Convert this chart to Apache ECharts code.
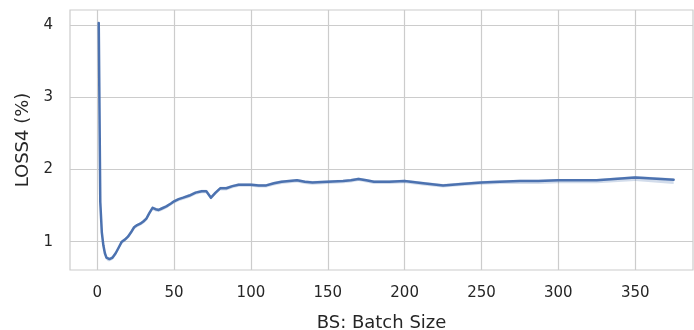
<!DOCTYPE html>
<html>
<head>
<meta charset="utf-8">
<script src="https://cdn.jsdelivr.net/npm/echarts@6/dist/echarts.min.js"></script>
<style>
  html, body { margin: 0; padding: 0; background: #ffffff; }
  #chart { width: 694px; height: 330px; }
</style>
</head>
<body>
<div id="chart"></div>
<script>
// Batch sizes (x) and mean loss (%) with its confidence band
const batchSizes = [1, 2, 3, 4, 5, 6, 7, 8, 9, 10, 12, 14, 16, 18, 20, 22, 24, 26, 28, 30,
  32, 34, 36, 38, 40, 42, 45, 48, 50, 53, 56, 60, 64, 68, 71, 74, 77, 80, 84, 88,
  92, 96, 100, 105, 110, 115, 120, 125, 130, 135, 140, 150, 160, 165, 170, 175, 180, 190, 200, 212,
  225, 237, 250, 262, 275, 287, 300, 325, 350, 375];
const lossMean = [4.03, 1.55, 1.13, 0.95, 0.84, 0.78, 0.76, 0.76, 0.77, 0.78, 0.84, 0.92, 1.00, 1.03, 1.07, 1.13, 1.20, 1.23, 1.25, 1.28,
  1.32, 1.40, 1.47, 1.45, 1.44, 1.46, 1.49, 1.53, 1.56, 1.59, 1.61, 1.64, 1.68, 1.70, 1.70, 1.61, 1.68, 1.74, 1.74, 1.77,
  1.79, 1.79, 1.79, 1.78, 1.78, 1.81, 1.83, 1.84, 1.85, 1.83, 1.82, 1.83, 1.84, 1.85, 1.87, 1.85, 1.83, 1.83, 1.84, 1.81,
  1.78, 1.80, 1.82, 1.83, 1.84, 1.84, 1.85, 1.85, 1.89, 1.86];
const lossLower = [4.01, 1.52, 1.10, 0.92, 0.81, 0.75, 0.73, 0.73, 0.74, 0.75, 0.81, 0.89, 0.97, 1.00, 1.04, 1.10, 1.17, 1.20, 1.22, 1.25,
  1.29, 1.37, 1.44, 1.42, 1.41, 1.43, 1.46, 1.50, 1.53, 1.56, 1.58, 1.61, 1.65, 1.67, 1.67, 1.58, 1.65, 1.71, 1.71, 1.74,
  1.76, 1.76, 1.76, 1.75, 1.75, 1.78, 1.80, 1.81, 1.82, 1.80, 1.79, 1.80, 1.81, 1.82, 1.84, 1.82, 1.80, 1.80, 1.81, 1.78,
  1.75, 1.77, 1.79, 1.80, 1.80, 1.80, 1.81, 1.81, 1.84, 1.80];
const lossUpper = [4.05, 1.57, 1.15, 0.97, 0.86, 0.80, 0.78, 0.78, 0.79, 0.80, 0.86, 0.94, 1.02, 1.05, 1.09, 1.15, 1.22, 1.25, 1.27, 1.30,
  1.34, 1.42, 1.49, 1.47, 1.46, 1.48, 1.51, 1.55, 1.58, 1.61, 1.63, 1.66, 1.70, 1.72, 1.72, 1.63, 1.70, 1.76, 1.76, 1.79,
  1.81, 1.81, 1.81, 1.80, 1.80, 1.83, 1.85, 1.86, 1.87, 1.85, 1.84, 1.85, 1.86, 1.87, 1.89, 1.87, 1.85, 1.85, 1.86, 1.83,
  1.80, 1.82, 1.84, 1.85, 1.86, 1.86, 1.87, 1.87, 1.91, 1.88];

// Tick positions for both axes
const xTicks = [0, 50, 100, 150, 200, 250, 300, 350];
const yTicks = [1, 2, 3, 4];

const lineData = batchSizes.map((b, i) => [b, lossMean[i]]);
const textColor = '#262626';
const gridColor = '#cccccc';
const lineColor = '#4c72b0';

const chart = echarts.init(document.getElementById('chart'), null, { renderer: 'canvas' });

chart.setOption({
  animation: false,
  backgroundColor: '#ffffff',
  grid: {
    left: 70, top: 10, right: 1, bottom: 60,
    containLabel: false,
    outerBoundsMode: 'none',
    show: true, borderColor: gridColor, borderWidth: 1.2, backgroundColor: '#ffffff'
  },
  xAxis: {
    type: 'value',
    min: -17.7,
    max: 387.6,
    name: 'BS: Batch Size',
    nameLocation: 'middle',
    nameGap: 44,
    nameTextStyle: { color: textColor, fontSize: 18, fontFamily: 'DejaVu Sans' },
    axisLine: { show: false },
    axisTick: { show: false, customValues: xTicks },
    axisLabel: {
      color: textColor, fontSize: 15, fontFamily: 'DejaVu Sans', margin: 16,
      customValues: xTicks
    },
    splitLine: { show: true, lineStyle: { color: gridColor, width: 1.2 } }
  },
  yAxis: {
    type: 'value',
    min: 0.608,
    max: 4.21,
    name: 'LOSS4 (%)',
    nameLocation: 'middle',
    nameGap: 38,
    nameTextStyle: { color: textColor, fontSize: 18, fontFamily: 'DejaVu Sans' },
    axisLine: { show: false },
    axisTick: { show: false, customValues: yTicks },
    axisLabel: {
      color: textColor, fontSize: 15, fontFamily: 'DejaVu Sans', margin: 17,
      customValues: yTicks
    },
    splitLine: { show: true, lineStyle: { color: gridColor, width: 1.2 } }
  },
  series: [
    {
      // confidence band drawn as one polygon: upper edge forward, lower edge back
      type: 'custom',
      data: [0],
      clip: true,
      z: 1,
      renderItem: function (params, api) {
        const pts = [];
        for (let i = 0; i < batchSizes.length; i++) pts.push(api.coord([batchSizes[i], lossUpper[i]]));
        for (let i = batchSizes.length - 1; i >= 0; i--) pts.push(api.coord([batchSizes[i], lossLower[i]]));
        return {
          type: 'polygon',
          shape: { points: pts },
          style: { fill: 'rgba(76,114,176,0.25)', stroke: null }
        };
      }
    },
    {
      type: 'line',
      data: lineData,
      showSymbol: false,
      symbol: 'none',
      z: 2,
      lineStyle: { color: lineColor, width: 2.5, join: 'round', cap: 'round' }
    }
  ]
});
</script>
</body>
</html>
